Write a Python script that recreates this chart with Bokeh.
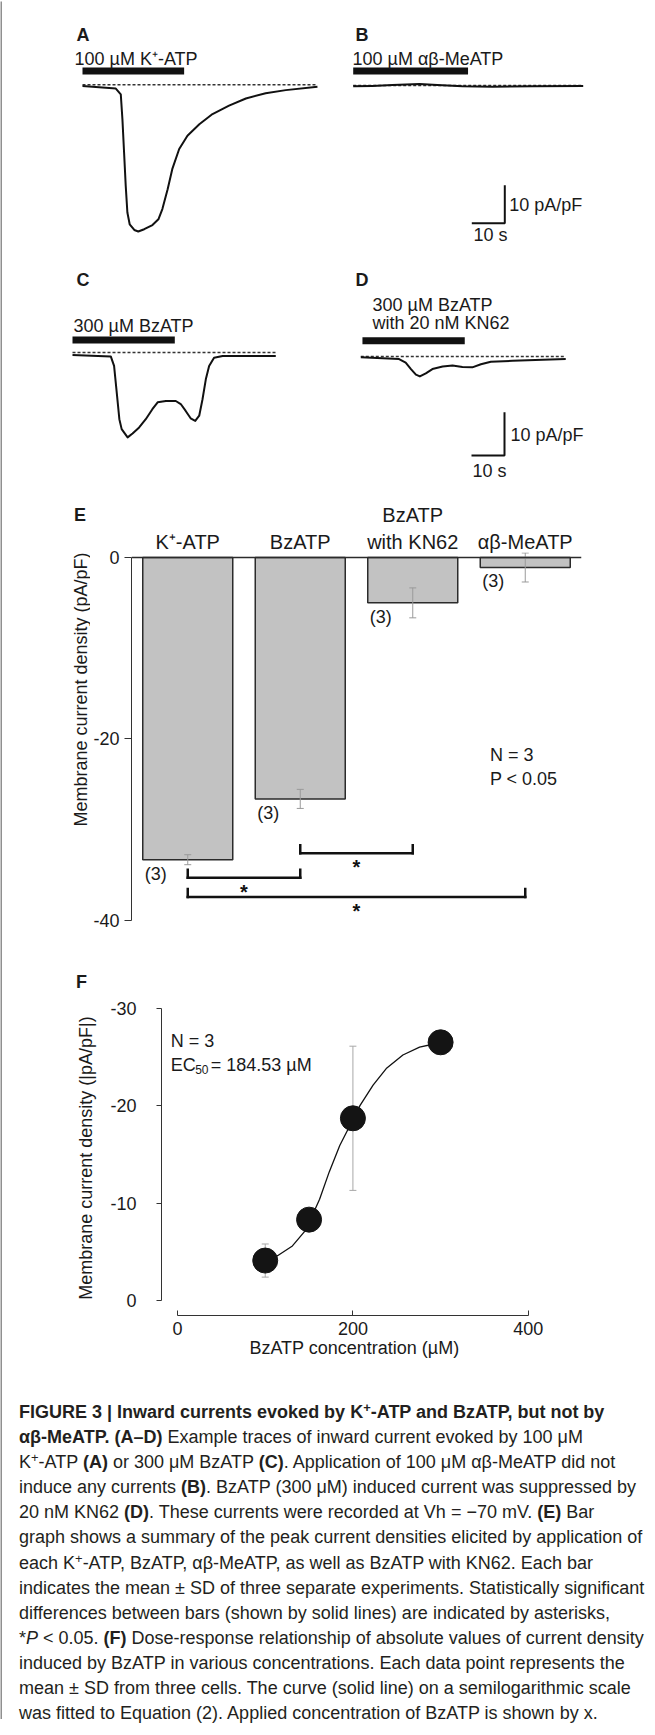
from math import pi
from bokeh.plotting import figure
from bokeh.models import Range1d, FactorRange, Label, Span, FixedTicker, Div, ColumnDataSource
from bokeh.layouts import column, row
from bokeh.embed import file_html
from bokeh.resources import INLINE
from bokeh.core.properties import value

FONT = "Liberation Sans"
INK = "#1a1a1a"

# ---------------- data ----------------
# (A) 100 µM K+-ATP: time (s), current density (pA/pF)
a_t = [0, 10.1, 11.6, 12.1, 12.6, 13.1, 13.6, 14.3, 15.7, 16.9, 18.7, 21.2, 23.0, 24.2,
       25.8, 27.2, 29.3, 31.8, 35.4, 39.4, 44.4, 49.5, 55.5, 61.6, 71.2]
a_i = [-0.3, -1.0, -2.5, -9.1, -17.8, -26.6, -33.6, -36.7, -38.2, -38.6, -38.0, -36.9, -35.4, -32.7,
       -27.5, -22.2, -16.9, -13.4, -10.4, -7.7, -5.5, -3.6, -2.2, -1.4, -0.5]
a_app = [0.0, 30.8]
# (B) 100 µM αβ-MeATP
b_t = [0, 5.8, 11.9, 20.1, 25.5, 33.1, 42.2, 54.3, 69.7]
b_i = [-0.2, -0.1, 0.1, 0.4, 0.1, -0.2, -0.3, -0.2, -0.1]
b_app = [0.0, 34.8]
# (C) 300 µM BzATP
c_t = [0, 11.6, 12.6, 13.4, 14.2, 14.9, 16.7, 18.2, 20.2, 22.2, 24.2, 25.8, 28.3, 31.3,
       32.8, 34.3, 35.8, 37.2, 38.4, 39.4, 40.4, 41.4, 42.9, 45.5, 61.6]
c_i = [-0.6, -0.9, -3.1, -9.2, -15.4, -17.7, -19.6, -18.7, -17.3, -15.4, -13.1, -11.5, -11.2, -11.2,
       -11.9, -13.5, -15.2, -15.8, -14.6, -10.8, -6.2, -3.1, -1.2, -0.8, -0.8]
c_app = [0.0, 31.0]
# (D) 300 µM BzATP with 20 nM KN62
d_t = [0, 11.6, 13.6, 15.2, 16.7, 17.9, 19.7, 21.7, 24.8, 27.8, 30.8, 33.8, 36.4, 39.4, 46.0, 62.1]
d_i = [-0.2, -0.6, -1.4, -2.9, -4.2, -4.6, -3.9, -2.9, -2.3, -2.1, -2.4, -2.5, -1.8, -1.2, -1.0, -0.6]
d_app = [0.5, 31.5]
scale_t = 10   # s
scale_i = 10   # pA/pF

# (E) bar graph
e_cats = ["K⁺-ATP", "BzATP", "BzATP\nwith KN62", "αβ-MeATP"]
e_mean = [-33.3, -26.6, -5.0, -1.1]
e_sd = [0.55, 1.05, 1.65, 1.6]
e_n = [3, 3, 3, 3]
e_ticks = [0, -20, -40]
sig_pairs = [(1, 2), (0, 1), (0, 3)]
sig_levels = [-32.6, -35.3, -37.4]

# (F) dose-response
f_conc = [100, 150, 200, 300]
f_mean = [-4.1, -8.3, -18.7, -26.5]
f_sd = [1.7, 0.8, 7.4, 0.6]
f_fit_x = [100, 114, 131, 145, 152, 162, 173, 185, 194, 208, 223, 238, 257, 276, 291, 301]
f_fit_y = [-4.1, -4.6, -5.6, -7.1, -8.4, -10.4, -13.2, -15.9, -17.5, -20.0, -22.1, -23.8,
           -25.2, -26.0, -26.3, -26.5]
f_xticks = [0, 200, 400]
f_yticks = [0, -10, -20, -30]

caption_lines = [
    "<b>FIGURE 3 | Inward currents evoked by K<sup>+</sup>-ATP and BzATP, but not by</b>",
    "<b>αβ-MeATP. (A–D)</b> Example traces of inward current evoked by 100 μM",
    "K<sup>+</sup>-ATP <b>(A)</b> or 300 μM BzATP <b>(C)</b>. Application of 100 μM αβ-MeATP did not",
    "induce any currents <b>(B)</b>. BzATP (300 μM) induced current was suppressed by",
    "20 nM KN62 <b>(D)</b>. These currents were recorded at Vh = −70 mV. <b>(E)</b> Bar",
    "graph shows a summary of the peak current densities elicited by application of",
    "each K<sup>+</sup>-ATP, BzATP, αβ-MeATP, as well as BzATP with KN62. Each bar",
    "indicates the mean ± SD of three separate experiments. Statistically significant",
    "differences between bars (shown by solid lines) are indicated by asterisks,",
    "*<i>P</i> &lt; 0.05. <b>(F)</b> Dose-response relationship of absolute values of current density",
    "induced by BzATP in various concentrations. Each data point represents the",
    "mean ± SD from three cells. The curve (solid line) on a semilogarithmic scale",
    "was fitted to Equation (2). Applied concentration of BzATP is shown by x.",
]


# ---------------- helpers ----------------
def label(p, x, y, text, size="18px", bold=False, align="left", baseline="alphabetic", angle=0.0):
    p.add_layout(Label(x=x, y=y, text=text, text_font=FONT, text_font_size=size,
                       text_font_style="bold" if bold else "normal",
                       text_align=align, text_baseline=baseline, angle=angle,
                       text_color=INK))


def bare(p):
    p.grid.grid_line_color = None
    p.outline_line_color = None
    return p


def plain_fig(w, h, xr, yr, fill=None):
    kw = {}
    if fill is not None:
        kw = dict(background_fill_color=fill, border_fill_color=fill)
    p = figure(width=w, height=h, x_range=xr, y_range=yr,
               toolbar_location=None, output_backend="svg", title=None,
               x_axis_location=None, y_axis_location=None,
               min_border_left=0, min_border_right=0, min_border_top=0, min_border_bottom=0, **kw)
    return bare(p)


def trace_panel(w, h, ox, oy, pxs, pxu):
    p = plain_fig(w, h, Range1d(-ox / pxs, (w - ox) / pxs), Range1d(-(h - oy) / pxu, oy / pxu))

    def X(px):
        return (px - ox) / pxs

    def Y(py):
        return (oy - py) / pxu
    return p, X, Y


def draw_trace(p, t, i, app, ybar):
    p.line([t[0], t[-1]], [0, 0], line_dash="3 2", line_width=1.4, line_color="#333333")
    p.line(t, i, line_width=2.0, line_color="#111111", line_join="round")
    p.line(app, [ybar, ybar], line_width=7, line_color="#111111", line_cap="butt")


def scale_bar(p, tc, ic):
    p.line([tc - scale_t, tc, tc], [ic, ic, ic + scale_i], line_width=2, line_color="#111111")


# ---------------- A ----------------
pA, XA, YA = trace_panel(330, 260, 80, 83.3, 3.3, 3.8)
draw_trace(pA, a_t, a_i, a_app, YA(69.5))
label(pA, XA(74), YA(33), "A", bold=True)
label(pA, XA(72), YA(57.7), "100 µM K⁺-ATP")

# ---------------- B ----------------
pB, XB, YB = trace_panel(315, 260, 20.7, 84, 3.3, 3.8)
draw_trace(pB, b_t, b_i, b_app, YB(69.5))
label(pB, XB(23), YB(33), "B", bold=True)
label(pB, XB(20), YB(57.7), "100 µM αβ-MeATP")
scale_bar(pB, XB(172.3), YB(221.7))
label(pB, XB(176.7), YB(203.7), "10 pA/pF", baseline="middle")
label(pB, XB(158), YB(233.7), "10 s", align="center", baseline="middle")

# ---------------- C ----------------
pC, XC, YC = trace_panel(330, 226, 70, 91, 3.3, 4.33)
draw_trace(pC, c_t, c_i, c_app, YC(78.5))
label(pC, XC(74), YC(18), "C", bold=True)
label(pC, XC(71), YC(64), "300 µM BzATP")

# ---------------- D ----------------
pD, XD, YD = trace_panel(315, 226, 28.3, 95, 3.3, 4.33)
draw_trace(pD, d_t, d_i, d_app, YD(79.3))
label(pD, XD(23), YD(18), "D", bold=True)
label(pD, XD(40), YD(43), "300 µM BzATP")
label(pD, XD(40), YD(61), "with 20 nM KN62")
scale_bar(pD, XD(172), YD(194))
label(pD, XD(178), YD(173), "10 pA/pF", baseline="middle")
label(pD, XD(157), YD(209), "10 s", align="center", baseline="middle")

# ---------------- E ----------------
E_H = 455
E_SIDE = 88
E_W = 645 - E_SIDE
E_BL, E_BR, E_BT, E_BB = 39, 66, 65, 19
E_Y0 = -40.33
E_SPAN = 40.88

# left strip of panel E: letter on top, rotated y-axis title below (pixel coordinates, y up)
pEs_top = plain_fig(E_SIDE, E_BT, Range1d(0, E_SIDE), Range1d(0, E_BT))
label(pEs_top, 71.5, E_BT - 27, "E", bold=True)
pEs_bot = plain_fig(E_SIDE, E_H - E_BT, Range1d(0, E_SIDE), Range1d(0, E_H - E_BT))
label(pEs_bot, 78, (E_H - E_BT) - (202 - E_BT), "Membrane current density (pA/pF)",
      align="center", baseline="middle", angle=pi / 2)
pEs = column(pEs_top, pEs_bot)

pE = figure(width=E_W, height=E_H, x_range=FactorRange(factors=e_cats),
            y_range=Range1d(E_Y0, E_Y0 + E_SPAN), x_axis_location="above",
            toolbar_location=None, output_backend="svg", title=None,
            min_border_left=E_BL, min_border_right=E_BR, min_border_top=E_BT, min_border_bottom=E_BB)
bare(pE)
E_left_page = 10 + E_SIDE + E_BL
E_top_page = 495 + E_BT
E_ux = (E_W - E_BL - E_BR) / len(e_cats)
E_uy = (E_H - E_BT - E_BB) / E_SPAN


def EX(px):
    return (px - E_left_page) / E_ux


def EY(py):
    return (E_Y0 + E_SPAN) - (py - E_top_page) / E_uy


ya = pE.yaxis[0]
ya.ticker = FixedTicker(ticks=e_ticks)
ya.bounds = (min(e_ticks), max(e_ticks))
ya.major_label_overrides = {t: str(t) for t in e_ticks}
ya.major_tick_out = 7
ya.major_tick_in = 0
ya.minor_tick_line_color = None
ya.axis_line_color = "#333333"
ya.major_tick_line_color = "#333333"
ya.major_label_text_font = FONT
ya.major_label_text_font_size = "18px"
ya.major_label_text_color = INK
ya.major_label_standoff = 5

xa = pE.xaxis[0]
xa.axis_line_color = None
xa.major_tick_line_color = None
xa.major_tick_out = 0
xa.major_label_standoff = 0
xa.major_label_text_font = FONT
xa.major_label_text_font_size = "20px"
xa.major_label_text_color = INK

srcE = ColumnDataSource(dict(
    cat=e_cats, mean=e_mean,
    lo=[m - s for m, s in zip(e_mean, e_sd)],
    hi=[m + s for m, s in zip(e_mean, e_sd)],
    ntext=["(%d)" % n for n in e_n]))
pE.vbar(x="cat", top="mean", bottom=0, width=0.8, fill_color="#c2c2c2",
        line_color="#2b2b2b", line_width=1.5, source=srcE)
pE.add_layout(Span(location=0, dimension="width", line_color="#2b2b2b", line_width=1.5))
pE.segment(x0="cat", y0="lo", x1="cat", y1="hi", line_color="#9a9a9a", line_width=1, source=srcE)
pE.scatter(x=e_cats + e_cats, y=list(srcE.data["lo"]) + list(srcE.data["hi"]),
           marker="dash", size=7, line_color="#9a9a9a", line_width=1)
pE.text(x="cat", y="mean", text="ntext", x_offset=-43, y_offset=14, text_align="left",
        text_baseline="middle", text_font=value(FONT), text_font_size="18px",
        text_color=INK, source=srcE)

tick_h = 8 / E_uy
bx0, by0, bx1, by1, sx, sy = [], [], [], [], [], []
for (i, j), lev in zip(sig_pairs, sig_levels):
    xi, xj = i + 0.5, j + 0.5
    bx0 += [xi, xi, xj]
    by0 += [lev, lev, lev]
    bx1 += [xj, xi, xj]
    by1 += [lev, lev + tick_h, lev + tick_h]
    sx.append((xi + xj) / 2)
    sy.append(lev)
pE.segment(x0=bx0, y0=by0, x1=bx1, y1=by1, line_color="#111111", line_width=2.5, line_cap="square")
pE.text(x=sx, y=sy, text=["*"] * len(sx), y_offset=3, text_align="center", text_baseline="top",
        text_font=value(FONT), text_font_size="20px", text_font_style="bold", text_color="#111111")

label(pE, EX(497), EY(762.7), "N = 3")
label(pE, EX(497), EY(786), "P < 0.05")

# ---------------- F ----------------
F_W, F_H = 645, 430
F_BL, F_BR, F_BT, F_BB = 159, 100, 58, 57
F_X0, F_X1 = -18.29, 421.9
F_Y0, F_Y1 = 1.54, -30.79
pF = figure(width=F_W, height=F_H, x_range=Range1d(F_X0, F_X1), y_range=Range1d(F_Y0, F_Y1),
            toolbar_location=None, output_backend="svg", title="F",
            min_border_left=F_BL, min_border_right=F_BR, min_border_top=F_BT, min_border_bottom=F_BB)
bare(pF)
pF.title.align = "left"
pF.title.offset = -(F_BL + 10 - 83.5)
pF.title.text_font = FONT
pF.title.text_font_size = "18px"
pF.title.text_font_style = "bold"
pF.title.text_color = INK
pF.title.standoff = 18

F_left_page = 10 + F_BL
F_top_page = 950 + F_BT
F_ux = (F_W - F_BL - F_BR) / (F_X1 - F_X0)
F_uy = (F_H - F_BT - F_BB) / (F_Y0 - F_Y1)


def FX(px):
    return F_X0 + (px - F_left_page) / F_ux


def FY(py):
    return F_Y1 + (py - F_top_page) / F_uy


fy = pF.yaxis[0]
fy.ticker = FixedTicker(ticks=f_yticks)
fy.bounds = (min(f_yticks), max(f_yticks))
fy.major_label_overrides = {t: str(t) for t in f_yticks}
fy.major_tick_out = 5
fy.major_tick_in = 0
fy.minor_tick_line_color = None
fy.major_label_standoff = 20
fy.axis_label = "Membrane current density (|pA/pF|)"
fy.axis_label_standoff = 11

fx = pF.xaxis[0]
fx.ticker = FixedTicker(ticks=f_xticks)
fx.bounds = (min(f_xticks), max(f_xticks))
fx.major_tick_in = 5
fx.major_tick_out = 0
fx.minor_tick_line_color = None
fx.major_label_standoff = 6
fx.axis_label = "BzATP concentration (µM)"
fx.axis_label_standoff = 0

for ax in (fx, fy):
    ax.axis_line_color = "#333333"
    ax.major_tick_line_color = "#333333"
    ax.major_label_text_font = FONT
    ax.major_label_text_font_size = "18px"
    ax.major_label_text_color = INK
    ax.axis_label_text_font = FONT
    ax.axis_label_text_font_size = "18px"
    ax.axis_label_text_font_style = "normal"
    ax.axis_label_text_color = INK

f_lo = [m - s for m, s in zip(f_mean, f_sd)]
f_hi = [m + s for m, s in zip(f_mean, f_sd)]
pF.segment(x0=f_conc, y0=f_lo, x1=f_conc, y1=f_hi, line_color="#a8a8a8", line_width=1)
pF.scatter(x=f_conc + f_conc, y=f_lo + f_hi, marker="dash", size=7, line_color="#a8a8a8", line_width=1)
pF.line(f_fit_x, f_fit_y, line_color="#111111", line_width=1.3)
pF.scatter(x=f_conc, y=f_mean, size=25, marker="circle", fill_color="#141414", line_color="#141414")

label(pF, FX(178.3), FY(1048), "N = 3")
label(pF, FX(178.3), FY(1072), "EC")
label(pF, FX(202.7), FY(1077), "50", size="12px")
label(pF, FX(218.3), FY(1072), "= 184.53 µM")

# ---------------- caption ----------------
sup_fix = '<sup style="font-size:0.72em;line-height:0;vertical-align:0.5em">+</sup>'
html_lines = [ln.replace("<sup>+</sup>", sup_fix) for ln in caption_lines]
caption_html = (
    '<div style="padding:23px 0 0 12px;font-family:\'Liberation Sans\',Arial,sans-serif;'
    'font-size:18px;line-height:25.1px;color:#231f20;white-space:nowrap;">'
    + "<br>".join(html_lines) + "</div>")
cap = Div(text=caption_html, width=645, height=347)

# ---------------- frame lines (thin filled plots) ----------------
top_line = plain_fig(647, 1, Range1d(0, 1), Range1d(0, 1), fill="#4d4d4d")
left_line = plain_fig(2, 1718, Range1d(0, 1), Range1d(0, 1), fill="#8f8f8f")

body = column(row(pA, pB), row(pC, pD), row(pEs, pE), pF, cap)
layout = column(top_line, row(left_line, body))

open("out.html", "w").write(file_html(layout, INLINE))
